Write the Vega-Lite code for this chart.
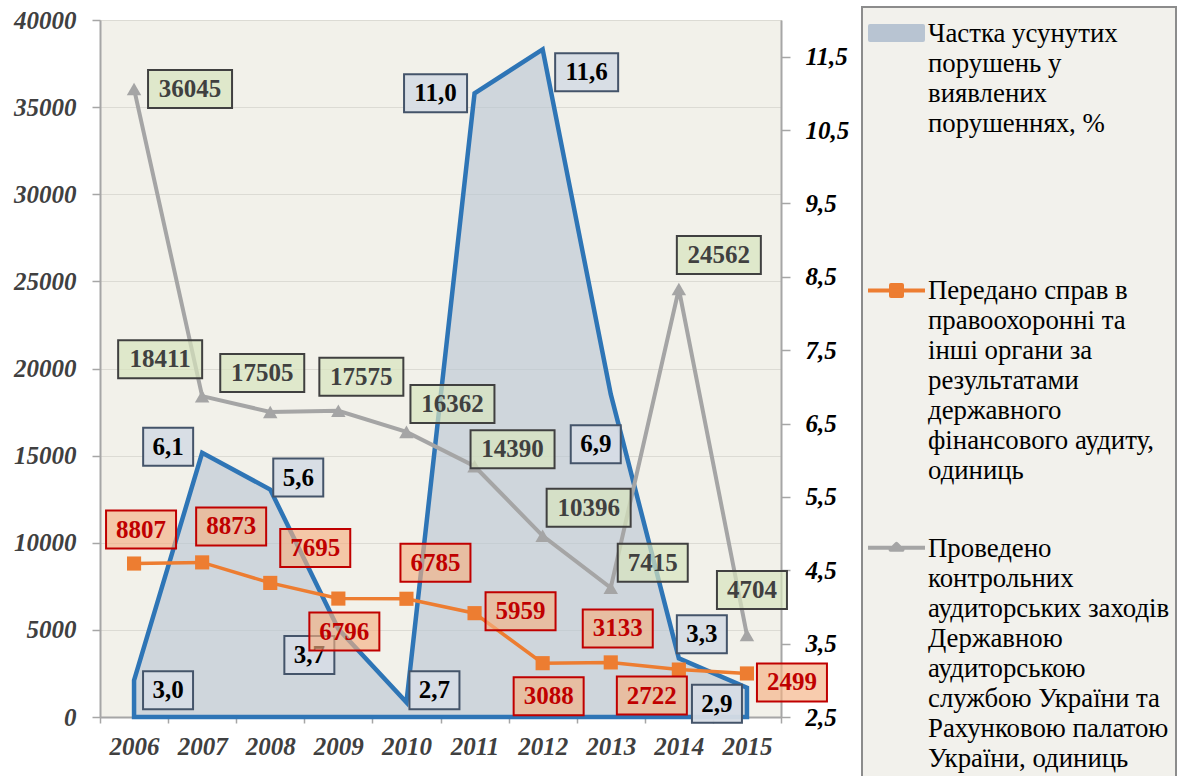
{
"$schema": "https://vega.github.io/schema/vega-lite/v6.json",
"width": 681,
"height": 697,
"autosize": {"type": "none"},
"padding": {"left": 100, "top": 20, "right": 397, "bottom": 59},
"background": "#ffffff",
"config": {
 "view": {"fill": "#f2f1ea", "stroke": "#cdc8b0", "strokeWidth": 1},
 "locale": {"number": {"decimal": ",", "thousands": " ", "grouping": [3], "currency": ["", ""]}},
 "axis": {"labelFont": "Liberation Serif", "labelFontSize": 25, "labelFontWeight": "bold", "labelFontStyle": "italic", "domainColor": "#a6a6a6", "domainWidth": 2, "tickColor": "#a6a6a6", "tickWidth": 1.5, "gridColor": "#dcdbd4", "gridWidth": 1}
},
"data": {"values": [
 {"year": 2006, "share": 3.0, "cases": 8807, "measures": 36045},
 {"year": 2007, "share": 6.1, "cases": 8873, "measures": 18411},
 {"year": 2008, "share": 5.6, "cases": 7695, "measures": 17505},
 {"year": 2009, "share": 3.7, "cases": 6796, "measures": 17575},
 {"year": 2010, "share": 2.7, "cases": 6785, "measures": 16362},
 {"year": 2011, "share": 11.0, "cases": 5959, "measures": 14390},
 {"year": 2012, "share": 11.6, "cases": 3088, "measures": 10396},
 {"year": 2013, "share": 6.9, "cases": 3133, "measures": 7415},
 {"year": 2014, "share": 3.3, "cases": 2722, "measures": 24562},
 {"year": 2015, "share": 2.9, "cases": 2499, "measures": 4704}
]},
"encoding": {
 "x": {"field": "year", "type": "ordinal", "title": null,
  "scale": {"type": "band", "paddingInner": 0, "paddingOuter": 0},
  "axis": {"labelAngle": 0, "labelColor": "#404040", "tickBand": "extent", "tickSize": 6, "labelPadding": 11, "grid": false}}
},
"layer": [
 {
  "encoding": {"y": {"field": "share", "type": "quantitative", "title": null,
   "scale": {"domain": [2.5, 12], "nice": false, "zero": false},
   "axis": {"orient": "right", "values": [2.5, 3.5, 4.5, 5.5, 6.5, 7.5, 8.5, 9.5, 10.5, 11.5], "format": ".1f", "labelColor": "#000000", "tickSize": 9, "labelPadding": 15, "grid": false}}},
  "layer": [
   {"mark": {"type": "area", "stroke": "#2e75b6", "strokeWidth": 4.5, "fillOpacity": 0.6, "strokeJoin": "miter"},
    "encoding": {
     "y2": {"datum": 2.5},
     "color": {"datum": "A",
      "scale": {"domain": ["A", "B", "C"], "range": ["#b8c4d2", "#ed7d31", "#a5a5a5"]},
      "legend": {
       "orient": "none", "legendX": 762, "legendY": -13,
       "title": " ", "titleFontSize": 1, "titlePadding": 14.2,
       "direction": "vertical", "columns": 1,
       "padding": 6, "fillColor": "#f2f1ec", "strokeColor": "#8c8c8c",
       "symbolSize": 529, "symbolStrokeWidth": 4, "symbolOffset": 15, "symbolOpacity": 1,
       "labelFont": "Liberation Serif", "labelFontSize": 26.8, "labelColor": "#000000", "labelLimit": 500, "labelOffset": 18, "labelBaseline": "alphabetic",
       "rowPadding": 19.4,
       "labelExpr": "datum.value == 'A' ? ['Частка усунутих', 'порушень у', 'виявлених', 'порушеннях, %', '', '', '', ''] : datum.value == 'B' ? ['Передано справ в', 'правоохоронні та', 'інші органи за', 'результатами', 'державного', 'фінансового аудиту,', 'одиниць', ''] : ['Проведено', 'контрольних', 'аудиторських заходів', 'Державною', 'аудиторською', 'службою України та', 'Рахунковою палатою', 'України, одиниць']",
       "encoding": {
        "legend": {"strokeWidth": {"value": 2}},
        "labels": {"lineHeight": {"value": 30}},
        "symbols": {
         "shape": {"value": {"expr": "datum.value == 'A' ? 'M-2.304,-1.366L2.304,-1.366L2.304,-0.148L-2.304,-0.148Z' : datum.value == 'B' ? 'M-2.478,-0.757L2.478,-0.757M-0.478,-1.235L0.478,-1.235L0.478,-0.279L-0.478,-0.279Z' : 'M-2.478,-0.757L2.478,-0.757M0,-1.105L0.52,-0.583L-0.52,-0.583Z'"}},
         "fill": {"value": {"expr": "datum.value == 'A' ? '#cfd6de' : datum.value == 'B' ? '#ed7d31' : '#a5a5a5'"}},
         "stroke": {"value": {"expr": "datum.value == 'A' ? '#2e75b6' : datum.value == 'B' ? '#ed7d31' : '#a5a5a5'"}},
         "strokeWidth": {"value": 4},
         "strokeJoin": {"value": "round"},
         "opacity": {"value": 1}, "fillOpacity": {"value": 1}, "strokeOpacity": {"value": 1}
        }
       }
      }
     }
    }
   },
   {"transform": [{"filter": {"field": "year", "oneOf": [2006]}}], "layer": [
    {"mark": {"type": "point", "shape": "M-1,-0.76L1,-0.76L1,0.76L-1,0.76Z", "size": 2500, "filled": true, "fill": "#d6dce5", "fillOpacity": 0.95, "stroke": "#44546a", "strokeWidth": 2, "opacity": 1, "xOffset": 34, "yOffset": 10}},
    {"mark": {"type": "text", "font": "Liberation Serif", "fontSize": 25, "fontWeight": "bold", "fill": "#000000", "xOffset": 34, "yOffset": 10}, "encoding": {"text": {"field": "share", "type": "quantitative", "format": ".1f"}}}
   ]},
   {"transform": [{"filter": {"field": "year", "oneOf": [2007]}}], "layer": [
    {"mark": {"type": "point", "shape": "M-1,-0.76L1,-0.76L1,0.76L-1,0.76Z", "size": 2500, "filled": true, "fill": "#d6dce5", "fillOpacity": 0.95, "stroke": "#44546a", "strokeWidth": 2, "opacity": 1, "xOffset": -34, "yOffset": -6}},
    {"mark": {"type": "text", "font": "Liberation Serif", "fontSize": 25, "fontWeight": "bold", "fill": "#000000", "xOffset": -34, "yOffset": -6}, "encoding": {"text": {"field": "share", "type": "quantitative", "format": ".1f"}}}
   ]},
   {"transform": [{"filter": {"field": "year", "oneOf": [2008, 2010]}}], "layer": [
    {"mark": {"type": "point", "shape": "M-1,-0.76L1,-0.76L1,0.76L-1,0.76Z", "size": 2500, "filled": true, "fill": "#d6dce5", "fillOpacity": 0.95, "stroke": "#44546a", "strokeWidth": 2, "opacity": 1, "xOffset": 28, "yOffset": -12}},
    {"mark": {"type": "text", "font": "Liberation Serif", "fontSize": 25, "fontWeight": "bold", "fill": "#000000", "xOffset": 28, "yOffset": -12}, "encoding": {"text": {"field": "share", "type": "quantitative", "format": ".1f"}}}
   ]},
   {"transform": [{"filter": {"field": "year", "oneOf": [2009]}}], "layer": [
    {"mark": {"type": "point", "shape": "M-1,-0.76L1,-0.76L1,0.76L-1,0.76Z", "size": 2500, "filled": true, "fill": "#d6dce5", "fillOpacity": 0.95, "stroke": "#44546a", "strokeWidth": 2, "opacity": 1, "xOffset": -29, "yOffset": 26}},
    {"mark": {"type": "text", "font": "Liberation Serif", "fontSize": 25, "fontWeight": "bold", "fill": "#000000", "xOffset": -29, "yOffset": 26}, "encoding": {"text": {"field": "share", "type": "quantitative", "format": ".1f"}}}
   ]},
   {"transform": [{"filter": {"field": "year", "oneOf": [2011]}}], "layer": [
    {"mark": {"type": "point", "shape": "M-1,-0.603L1,-0.603L1,0.603L-1,0.603Z", "size": 3969, "filled": true, "fill": "#d6dce5", "fillOpacity": 0.95, "stroke": "#44546a", "strokeWidth": 2, "opacity": 1, "xOffset": -39, "yOffset": 0}},
    {"mark": {"type": "text", "font": "Liberation Serif", "fontSize": 25, "fontWeight": "bold", "fill": "#000000", "xOffset": -39, "yOffset": 0}, "encoding": {"text": {"field": "share", "type": "quantitative", "format": ".1f"}}}
   ]},
   {"transform": [{"filter": {"field": "year", "oneOf": [2012]}}], "layer": [
    {"mark": {"type": "point", "shape": "M-1,-0.603L1,-0.603L1,0.603L-1,0.603Z", "size": 3969, "filled": true, "fill": "#d6dce5", "fillOpacity": 0.95, "stroke": "#44546a", "strokeWidth": 2, "opacity": 1, "xOffset": 44, "yOffset": 23}},
    {"mark": {"type": "text", "font": "Liberation Serif", "fontSize": 25, "fontWeight": "bold", "fill": "#000000", "xOffset": 44, "yOffset": 23}, "encoding": {"text": {"field": "share", "type": "quantitative", "format": ".1f"}}}
   ]},
   {"transform": [{"filter": {"field": "year", "oneOf": [2013]}}], "layer": [
    {"mark": {"type": "point", "shape": "M-1,-0.76L1,-0.76L1,0.76L-1,0.76Z", "size": 2500, "filled": true, "fill": "#d6dce5", "fillOpacity": 0.95, "stroke": "#44546a", "strokeWidth": 2, "opacity": 1, "xOffset": -15, "yOffset": 50}},
    {"mark": {"type": "text", "font": "Liberation Serif", "fontSize": 25, "fontWeight": "bold", "fill": "#000000", "xOffset": -15, "yOffset": 50}, "encoding": {"text": {"field": "share", "type": "quantitative", "format": ".1f"}}}
   ]},
   {"transform": [{"filter": {"field": "year", "oneOf": [2014]}}], "layer": [
    {"mark": {"type": "point", "shape": "M-1,-0.76L1,-0.76L1,0.76L-1,0.76Z", "size": 2500, "filled": true, "fill": "#d6dce5", "fillOpacity": 0.95, "stroke": "#44546a", "strokeWidth": 2, "opacity": 1, "xOffset": 23, "yOffset": -24}},
    {"mark": {"type": "text", "font": "Liberation Serif", "fontSize": 25, "fontWeight": "bold", "fill": "#000000", "xOffset": 23, "yOffset": -24}, "encoding": {"text": {"field": "share", "type": "quantitative", "format": ".1f"}}}
   ]},
   {"transform": [{"filter": {"field": "year", "oneOf": [2015]}}], "layer": [
    {"mark": {"type": "point", "shape": "M-1,-0.76L1,-0.76L1,0.76L-1,0.76Z", "size": 2500, "filled": true, "fill": "#d6dce5", "fillOpacity": 0.95, "stroke": "#44546a", "strokeWidth": 2, "opacity": 1, "xOffset": -30, "yOffset": 16}},
    {"mark": {"type": "text", "font": "Liberation Serif", "fontSize": 25, "fontWeight": "bold", "fill": "#000000", "xOffset": -30, "yOffset": 16}, "encoding": {"text": {"field": "share", "type": "quantitative", "format": ".1f"}}}
   ]}
  ]
 },
 {
  "layer": [
   {"mark": {"type": "line", "strokeWidth": 3.5},
    "encoding": {
     "y": {"field": "cases", "type": "quantitative", "title": null,
      "scale": {"domain": [0, 40000], "nice": false},
      "axis": {"values": [0, 5000, 10000, 15000, 20000, 25000, 30000, 35000, 40000], "format": "d", "labelColor": "#404040", "tickSize": 8, "labelPadding": 16, "grid": true}},
     "color": {"datum": "B"}}},
   {"mark": {"type": "line", "strokeWidth": 4},
    "encoding": {"y": {"field": "measures", "type": "quantitative", "title": null}, "color": {"datum": "C"}}},
   {"mark": {"type": "point", "shape": "square", "size": 200, "filled": true, "fill": "#ed7d31", "opacity": 1},
    "encoding": {"y": {"field": "cases", "type": "quantitative", "title": null}}},
   {"mark": {"type": "point", "shape": "triangle-up", "size": 210, "filled": true, "fill": "#a5a5a5", "opacity": 1},
    "encoding": {"y": {"field": "measures", "type": "quantitative", "title": null}}},
   {"encoding": {"y": {"field": "measures", "type": "quantitative", "title": null}},
    "layer": [
     {"transform": [{"filter": {"field": "year", "oneOf": [2006]}}], "layer": [
      {"mark": {"type": "point", "shape": "M-1,-0.452L1,-0.452L1,0.452L-1,0.452Z", "size": 7056, "filled": true, "fill": "#d7e4bd", "fillOpacity": 0.7, "stroke": "#404040", "strokeWidth": 2, "opacity": 1, "xOffset": 56, "yOffset": 0}},
      {"mark": {"type": "text", "font": "Liberation Serif", "fontSize": 25, "fontWeight": "bold", "fill": "#404040", "xOffset": 56, "yOffset": 0}, "encoding": {"text": {"field": "measures", "type": "quantitative", "format": "d"}}}
     ]},
     {"transform": [{"filter": {"field": "year", "oneOf": [2007]}}], "layer": [
      {"mark": {"type": "point", "shape": "M-1,-0.452L1,-0.452L1,0.452L-1,0.452Z", "size": 7056, "filled": true, "fill": "#d7e4bd", "fillOpacity": 0.7, "stroke": "#404040", "strokeWidth": 2, "opacity": 1, "xOffset": -42, "yOffset": -37}},
      {"mark": {"type": "text", "font": "Liberation Serif", "fontSize": 25, "fontWeight": "bold", "fill": "#404040", "xOffset": -42, "yOffset": -37}, "encoding": {"text": {"field": "measures", "type": "quantitative", "format": "d"}}}
     ]},
     {"transform": [{"filter": {"field": "year", "oneOf": [2008]}}], "layer": [
      {"mark": {"type": "point", "shape": "M-1,-0.452L1,-0.452L1,0.452L-1,0.452Z", "size": 7056, "filled": true, "fill": "#d7e4bd", "fillOpacity": 0.7, "stroke": "#404040", "strokeWidth": 2, "opacity": 1, "xOffset": -8, "yOffset": -39}},
      {"mark": {"type": "text", "font": "Liberation Serif", "fontSize": 25, "fontWeight": "bold", "fill": "#404040", "xOffset": -8, "yOffset": -39}, "encoding": {"text": {"field": "measures", "type": "quantitative", "format": "d"}}}
     ]},
     {"transform": [{"filter": {"field": "year", "oneOf": [2009]}}], "layer": [
      {"mark": {"type": "point", "shape": "M-1,-0.452L1,-0.452L1,0.452L-1,0.452Z", "size": 7056, "filled": true, "fill": "#d7e4bd", "fillOpacity": 0.7, "stroke": "#404040", "strokeWidth": 2, "opacity": 1, "xOffset": 23, "yOffset": -34}},
      {"mark": {"type": "text", "font": "Liberation Serif", "fontSize": 25, "fontWeight": "bold", "fill": "#404040", "xOffset": 23, "yOffset": -34}, "encoding": {"text": {"field": "measures", "type": "quantitative", "format": "d"}}}
     ]},
     {"transform": [{"filter": {"field": "year", "oneOf": [2010, 2012]}}], "layer": [
      {"mark": {"type": "point", "shape": "M-1,-0.452L1,-0.452L1,0.452L-1,0.452Z", "size": 7056, "filled": true, "fill": "#d7e4bd", "fillOpacity": 0.7, "stroke": "#404040", "strokeWidth": 2, "opacity": 1, "xOffset": 46, "yOffset": -28}},
      {"mark": {"type": "text", "font": "Liberation Serif", "fontSize": 25, "fontWeight": "bold", "fill": "#404040", "xOffset": 46, "yOffset": -28}, "encoding": {"text": {"field": "measures", "type": "quantitative", "format": "d"}}}
     ]},
     {"transform": [{"filter": {"field": "year", "oneOf": [2011]}}], "layer": [
      {"mark": {"type": "point", "shape": "M-1,-0.452L1,-0.452L1,0.452L-1,0.452Z", "size": 7056, "filled": true, "fill": "#d7e4bd", "fillOpacity": 0.7, "stroke": "#404040", "strokeWidth": 2, "opacity": 1, "xOffset": 38, "yOffset": -17}},
      {"mark": {"type": "text", "font": "Liberation Serif", "fontSize": 25, "fontWeight": "bold", "fill": "#404040", "xOffset": 38, "yOffset": -17}, "encoding": {"text": {"field": "measures", "type": "quantitative", "format": "d"}}}
     ]},
     {"transform": [{"filter": {"field": "year", "oneOf": [2014]}}], "layer": [
      {"mark": {"type": "point", "shape": "M-1,-0.452L1,-0.452L1,0.452L-1,0.452Z", "size": 7056, "filled": true, "fill": "#d7e4bd", "fillOpacity": 0.7, "stroke": "#404040", "strokeWidth": 2, "opacity": 1, "xOffset": 40, "yOffset": -34}},
      {"mark": {"type": "text", "font": "Liberation Serif", "fontSize": 25, "fontWeight": "bold", "fill": "#404040", "xOffset": 40, "yOffset": -34}, "encoding": {"text": {"field": "measures", "type": "quantitative", "format": "d"}}}
     ]},
     {"transform": [{"filter": {"field": "year", "oneOf": [2013]}}], "layer": [
      {"mark": {"type": "point", "shape": "M-1,-0.543L1,-0.543L1,0.543L-1,0.543Z", "size": 4900, "filled": true, "fill": "#d7e4bd", "fillOpacity": 0.7, "stroke": "#404040", "strokeWidth": 2, "opacity": 1, "xOffset": 42, "yOffset": -25}},
      {"mark": {"type": "text", "font": "Liberation Serif", "fontSize": 25, "fontWeight": "bold", "fill": "#404040", "xOffset": 42, "yOffset": -25}, "encoding": {"text": {"field": "measures", "type": "quantitative", "format": "d"}}}
     ]},
     {"transform": [{"filter": {"field": "year", "oneOf": [2015]}}], "layer": [
      {"mark": {"type": "point", "shape": "M-1,-0.543L1,-0.543L1,0.543L-1,0.543Z", "size": 4900, "filled": true, "fill": "#d7e4bd", "fillOpacity": 0.7, "stroke": "#404040", "strokeWidth": 2, "opacity": 1, "xOffset": 5, "yOffset": -45}},
      {"mark": {"type": "text", "font": "Liberation Serif", "fontSize": 25, "fontWeight": "bold", "fill": "#404040", "xOffset": 5, "yOffset": -45}, "encoding": {"text": {"field": "measures", "type": "quantitative", "format": "d"}}}
     ]}
    ]},
   {"encoding": {"y": {"field": "cases", "type": "quantitative", "title": null}},
    "layer": [
     {"transform": [{"filter": {"field": "year", "oneOf": [2006, 2013]}}], "layer": [
      {"mark": {"type": "point", "shape": "M-1,-0.543L1,-0.543L1,0.543L-1,0.543Z", "size": 4900, "filled": true, "fill": "#f4b183", "fillOpacity": 0.65, "stroke": "#c00000", "strokeWidth": 2, "opacity": 1, "xOffset": 7, "yOffset": -34}},
      {"mark": {"type": "text", "font": "Liberation Serif", "fontSize": 25, "fontWeight": "bold", "fill": "#c00000", "xOffset": 7, "yOffset": -34}, "encoding": {"text": {"field": "cases", "type": "quantitative", "format": "d"}}}
     ]},
     {"transform": [{"filter": {"field": "year", "oneOf": [2007, 2010]}}], "layer": [
      {"mark": {"type": "point", "shape": "M-1,-0.543L1,-0.543L1,0.543L-1,0.543Z", "size": 4900, "filled": true, "fill": "#f4b183", "fillOpacity": 0.65, "stroke": "#c00000", "strokeWidth": 2, "opacity": 1, "xOffset": 29, "yOffset": -36}},
      {"mark": {"type": "text", "font": "Liberation Serif", "fontSize": 25, "fontWeight": "bold", "fill": "#c00000", "xOffset": 29, "yOffset": -36}, "encoding": {"text": {"field": "cases", "type": "quantitative", "format": "d"}}}
     ]},
     {"transform": [{"filter": {"field": "year", "oneOf": [2008]}}], "layer": [
      {"mark": {"type": "point", "shape": "M-1,-0.543L1,-0.543L1,0.543L-1,0.543Z", "size": 4900, "filled": true, "fill": "#f4b183", "fillOpacity": 0.65, "stroke": "#c00000", "strokeWidth": 2, "opacity": 1, "xOffset": 45, "yOffset": -35}},
      {"mark": {"type": "text", "font": "Liberation Serif", "fontSize": 25, "fontWeight": "bold", "fill": "#c00000", "xOffset": 45, "yOffset": -35}, "encoding": {"text": {"field": "cases", "type": "quantitative", "format": "d"}}}
     ]},
     {"transform": [{"filter": {"field": "year", "oneOf": [2009, 2012]}}], "layer": [
      {"mark": {"type": "point", "shape": "M-1,-0.543L1,-0.543L1,0.543L-1,0.543Z", "size": 4900, "filled": true, "fill": "#f4b183", "fillOpacity": 0.65, "stroke": "#c00000", "strokeWidth": 2, "opacity": 1, "xOffset": 6, "yOffset": 33}},
      {"mark": {"type": "text", "font": "Liberation Serif", "fontSize": 25, "fontWeight": "bold", "fill": "#c00000", "xOffset": 6, "yOffset": 33}, "encoding": {"text": {"field": "cases", "type": "quantitative", "format": "d"}}}
     ]},
     {"transform": [{"filter": {"field": "year", "oneOf": [2011]}}], "layer": [
      {"mark": {"type": "point", "shape": "M-1,-0.543L1,-0.543L1,0.543L-1,0.543Z", "size": 4900, "filled": true, "fill": "#f4b183", "fillOpacity": 0.65, "stroke": "#c00000", "strokeWidth": 2, "opacity": 1, "xOffset": 46, "yOffset": -2}},
      {"mark": {"type": "text", "font": "Liberation Serif", "fontSize": 25, "fontWeight": "bold", "fill": "#c00000", "xOffset": 46, "yOffset": -2}, "encoding": {"text": {"field": "cases", "type": "quantitative", "format": "d"}}}
     ]},
     {"transform": [{"filter": {"field": "year", "oneOf": [2014]}}], "layer": [
      {"mark": {"type": "point", "shape": "M-1,-0.543L1,-0.543L1,0.543L-1,0.543Z", "size": 4900, "filled": true, "fill": "#f4b183", "fillOpacity": 0.65, "stroke": "#c00000", "strokeWidth": 2, "opacity": 1, "xOffset": -27, "yOffset": 26}},
      {"mark": {"type": "text", "font": "Liberation Serif", "fontSize": 25, "fontWeight": "bold", "fill": "#c00000", "xOffset": -27, "yOffset": 26}, "encoding": {"text": {"field": "cases", "type": "quantitative", "format": "d"}}}
     ]},
     {"transform": [{"filter": {"field": "year", "oneOf": [2015]}}], "layer": [
      {"mark": {"type": "point", "shape": "M-1,-0.543L1,-0.543L1,0.543L-1,0.543Z", "size": 4900, "filled": true, "fill": "#f4b183", "fillOpacity": 0.65, "stroke": "#c00000", "strokeWidth": 2, "opacity": 1, "xOffset": 45, "yOffset": 9}},
      {"mark": {"type": "text", "font": "Liberation Serif", "fontSize": 25, "fontWeight": "bold", "fill": "#c00000", "xOffset": 45, "yOffset": 9}, "encoding": {"text": {"field": "cases", "type": "quantitative", "format": "d"}}}
     ]}
    ]}
  ]
 }
],
"resolve": {"scale": {"y": "independent"}}
}
